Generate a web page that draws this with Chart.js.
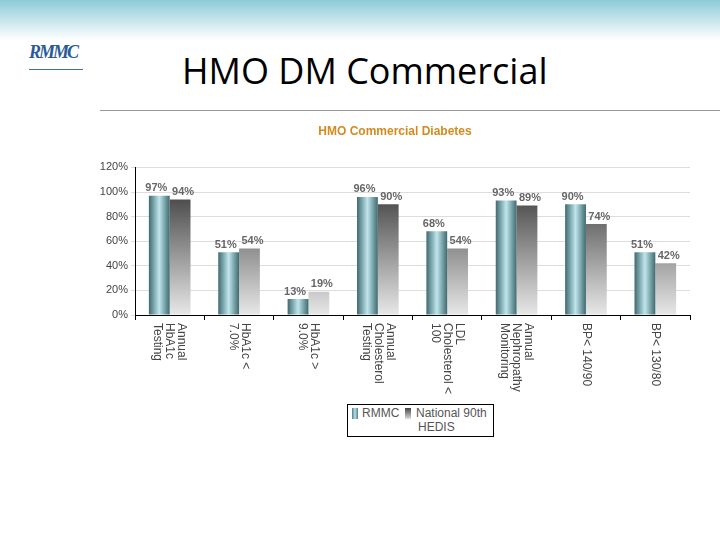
<!DOCTYPE html>
<html><head><meta charset="utf-8">
<script src="https://cdn.jsdelivr.net/npm/chart.js@4"></script>
<style>
body{margin:0;width:720px;height:540px;position:relative;background:#fff;overflow:hidden;font-family:"Liberation Sans",Arial,sans-serif}
#hdr{position:absolute;left:0;top:0;width:720px;height:40px;background:linear-gradient(#8ccbd9,#fff)}
#logo{position:absolute;left:29px;top:42px;width:54px;height:27px;border-bottom:1px solid #3a6fa8;color:#2a5a9a;font:italic bold 18px "Liberation Serif",serif;letter-spacing:-2px}
#ttl{position:absolute;left:182px;top:46px;font:36px "Open Sans","Liberation Sans",sans-serif;color:#000}
#box{position:absolute;left:100px;top:110px;width:620px;height:330px;border-top:1.5px solid #999}
#wrap{position:absolute;left:100px;top:112px;width:620px;height:330px}
#leg{position:absolute;left:347px;top:404px;width:145px;height:31px;border:1px solid #000;font:12px "Liberation Sans",Arial;color:#555;background:#fff}
</style></head><body>
<div id="hdr"></div><div id="logo">RMMC</div><div id="ttl">HMO DM Commercial</div>
<div id="box"></div>
<div id="wrap"><canvas id="c"></canvas></div>
<div id="leg"><span style="position:absolute;left:4px;top:3px;width:6px;height:11px;background:linear-gradient(90deg,#4f7f86,#b8e0e6,#4f7f86)"></span><span style="position:absolute;left:14px;top:1px">RMMC</span><span style="position:absolute;left:57px;top:3px;width:6px;height:11px;background:linear-gradient(#444,#ddd)"></span><span style="position:absolute;left:68px;top:1px">National 90th</span><span style="position:absolute;left:70px;top:15px">HEDIS</span></div>
<script>
const categories=[["Annual","HbA1c","Testing"],["HbA1c <","7.0%"],["HbA1c >","9.0%"],["Annual","Cholesterol","Testing"],["LDL","Cholesterol <","100"],["Annual","Nephropathy","Monitoring"],["BP< 140/90"],["BP< 130/80"]];
const rmmc=[0.97,0.51,0.13,0.96,0.68,0.93,0.90,0.51];
const national=[0.94,0.54,0.19,0.90,0.54,0.89,0.74,0.42];
const yTicks=[0,0.2,0.4,0.6,0.8,1.0,1.2];
function rGrad(ctx){const c=ctx.chart,a=c.chartArea;if(!a||ctx.type!=='data')return '#7fb0b6';const sx=c.scales.x;const cw=sx.width/categories.length;const bw=cw*0.3;const cx=sx.getPixelForValue(ctx.dataIndex)-bw/2;if(!isFinite(cx))return '#7fb0b6';const g=c.ctx.createLinearGradient(cx-bw/2,0,cx+bw/2,0);g.addColorStop(0,'#3e6a70');g.addColorStop(0.5,'#bfe6ec');g.addColorStop(1,'#3e6a70');return g;}
function nGrad(ctx){const c=ctx.chart,a=c.chartArea;if(!a)return '#888';const t=c.scales.y.getPixelForValue(1);if(!isFinite(t))return '#888';const g=c.ctx.createLinearGradient(0,t,0,a.bottom);g.addColorStop(0,'#444');g.addColorStop(1,'#e8e8e8');return g;}
const lbl={id:'lbl',afterDatasetsDraw(ch){const x=ch.ctx;x.save();x.font='bold 11px "Liberation Sans",Arial';x.fillStyle='#666';x.textBaseline='bottom';
ch.data.datasets.forEach((d,i)=>{ch.getDatasetMeta(i).data.forEach((b,j)=>{x.textAlign=i===0?'right':'left';x.fillText(Math.round(d.data[j]*100)+'%',b.x+(i===0?8:-8),b.y-2);});});
x.font='12px "Liberation Sans",Arial';x.fillStyle='#444';x.textAlign='left';x.textBaseline='middle';const sx=ch.scales.x;
categories.forEach((c,j)=>{const px=sx.getPixelForValue(j);const n=c.length;c.forEach((t,k)=>{x.save();x.translate(px+(n-1)*6-k*12,ch.chartArea.bottom+8);x.rotate(Math.PI/2);x.fillText(t,0,0);x.restore();});});
x.restore();}};
new Chart(document.getElementById('c'),{type:'bar',data:{labels:categories.map(c=>c.join(' ')),datasets:[{label:'RMMC',data:rmmc,backgroundColor:rGrad},{label:'National 90th HEDIS',data:national,backgroundColor:nGrad}]},
options:{responsive:true,maintainAspectRatio:false,animation:false,categoryPercentage:0.6,barPercentage:1,
layout:{padding:{left:0,right:30,top:6,bottom:0}},
plugins:{legend:{display:false},tooltip:{enabled:false},title:{display:true,text:'HMO Commercial Diabetes',color:'#d38b1f',font:{family:'"Liberation Sans",Arial',size:12,weight:'bold'},padding:{top:6,bottom:29}}},
scales:{x:{ticks:{display:false},grid:{offset:true,drawOnChartArea:false,color:'#000',tickLength:5},border:{color:'#000'},afterFit(s){s.height=127;}},
y:{min:0,max:1.2,afterBuildTicks(s){s.ticks=yTicks.map(v=>({value:v}));},ticks:{callback:v=>Math.round(v*100)+'%',color:'#444',font:{family:'"Liberation Sans",Arial',size:11}},grid:{color:'#ddd',tickLength:4},border:{color:'#000'},afterFit(s){s.width=35;}}}},plugins:[lbl]});
</script></body></html>
